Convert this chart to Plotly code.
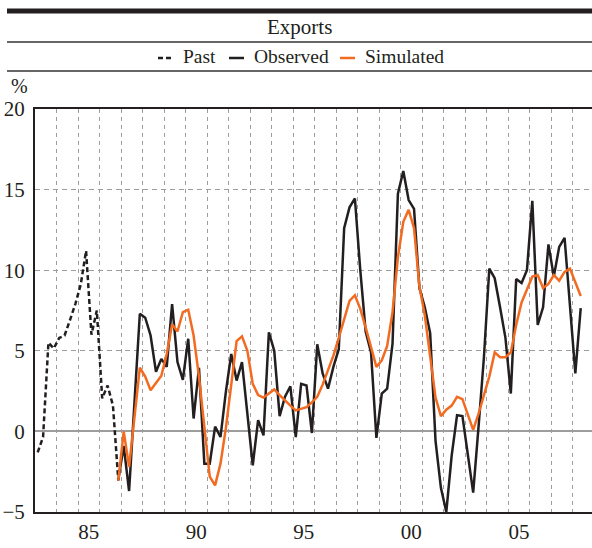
import pandas as pd
import plotly.graph_objects as go

# Quarterly export growth, %, 1983Q1 onward
past = [-1.3, -0.35, 5.5, 5.15, 5.8, 5.95, 6.9, 7.9, 9.1, 11.2, 6.0, 7.5, 2.05, 2.85, 1.6, -3.05]

observed = [
    -3.0, -0.9, -3.7, 1.8, 7.3, 7.05, 5.95, 3.7, 4.5, 4.0,
    7.9, 4.3, 3.2, 5.75, 0.8, 3.95, -2.0, -2.0, 0.3, -0.35,
    2.45, 4.8, 3.15, 4.3, 1.1, -2.1, 0.7, -0.25, 6.15, 5.0,
    0.95, 2.15, 2.8, -0.35, 2.95, 2.85, -0.1, 5.4, 3.6, 2.65,
    4.0, 5.1, 12.6, 13.9, 14.45, 10.0, 6.2, 4.9, -0.4, 2.35,
    2.65, 5.45, 14.75, 16.15, 14.35, 13.8, 8.9, 7.7, 6.1, -0.6,
    -3.5, -5.0, -1.5, 1.0, 0.95, -1.4, -3.8, 0.3, 4.6, 10.1,
    9.5, 7.7, 5.8, 2.35, 9.45, 9.2, 10.0, 14.3, 6.6, 7.7,
    11.6, 9.6, 11.45, 12.0, 8.0, 3.6, 7.65,
]

simulated = [
    -3.05, 0.0, -2.2, 0.9, 3.95, 3.4, 2.55, 3.0, 3.45, 4.8,
    6.65, 6.2, 7.4, 7.55, 5.95, 3.4, 0.5, -2.8, -3.35, -2.0,
    0.2, 3.0, 5.6, 5.9, 5.0, 2.95, 2.25, 2.1, 2.35, 2.6,
    2.25, 1.9, 1.6, 1.3, 1.4, 1.5, 1.8, 2.15, 2.9, 3.75,
    4.7, 5.8, 7.0, 8.1, 8.45, 7.6, 6.45, 5.2, 4.0, 4.4,
    5.3, 7.4, 10.8, 13.0, 13.75, 12.6, 9.0, 7.2, 4.6, 2.1,
    0.95, 1.35, 1.6, 2.15, 2.0, 1.1, 0.1, 1.1, 2.3, 3.4,
    4.9, 4.6, 4.6, 4.9, 6.6, 8.0, 8.8, 9.6, 9.7, 8.9,
    9.15, 9.7, 9.35, 9.9, 10.1, 9.25, 8.4,
]

tick_years = [1985, 1990, 1995, 2000, 2005]
tick_labels = ["85", "90", "95", "00", "05"]
y_ticks = [-5, 0, 5, 10, 15, 20]
y_labels = ["\u22125", "0", "5", "10", "15", "20"]

# quarter midpoints as decimal years
quarters = pd.period_range("1983Q1", periods=len(past) - 1 + len(observed), freq="Q")
qx = [p.year + (p.quarter - 1) / 4 + 0.125 for p in quarters]
x_past = qx[: len(past)]
x_obs = qx[len(past) - 1:]

BLACK = "#231f20"
ORANGE = "#f26b21"
GRID = "#9d9d9d"
FONT = "Liberation Serif"

fig = go.Figure()
fig.add_trace(go.Scatter(x=x_past, y=past, mode="lines",
                         line=dict(color=BLACK, width=2.5, dash="5px,3px"), name="Past"))
fig.add_trace(go.Scatter(x=x_obs, y=observed, mode="lines",
                         line=dict(color=BLACK, width=2.5), name="Observed"))
fig.add_trace(go.Scatter(x=x_obs, y=simulated, mode="lines",
                         line=dict(color=ORANGE, width=2.5), name="Simulated"))

W, H = 592, 548
L, R, T, B = 35, 592, 109, 512


def px(x):
    return (x - L) / (R - L)


def py(y):
    return (B - y) / (B - T)


shapes = [
    dict(type="line", xref="paper", yref="paper", x0=px(7), x1=px(592), y0=py(11), y1=py(11),
         line=dict(color=BLACK, width=5)),
    dict(type="line", xref="paper", yref="paper", x0=px(7), x1=px(592), y0=py(42), y1=py(42),
         line=dict(color="#333333", width=1.5)),
    dict(type="line", xref="paper", yref="paper", x0=px(7), x1=px(592), y0=py(71), y1=py(71),
         line=dict(color="#333333", width=1.5)),
]

annotations = [
    dict(text="Exports", x=px(299), y=py(27), xref="paper", yref="paper",
         showarrow=False, xanchor="center", yanchor="middle",
         font=dict(family=FONT, size=21, color=BLACK)),
    dict(text="%", x=px(9), y=py(86), xref="paper", yref="paper",
         showarrow=False, xanchor="left", yanchor="middle",
         font=dict(family=FONT, size=20, color=BLACK)),
]

# legend row drawn by hand: short line sample followed by its label
legend_items = [
    ("Past", BLACK, "5px,3px", 158, 181),
    ("Observed", BLACK, "solid", 229, 252),
    ("Simulated", ORANGE, "solid", 340, 363),
]
for label, color, dash, lx, tx in legend_items:
    shapes.append(dict(type="line", xref="paper", yref="paper",
                       x0=px(lx), x1=px(lx + 15), y0=py(58), y1=py(58),
                       line=dict(color=color, width=2.5, dash=dash)))
    annotations.append(dict(text=label, x=px(tx), y=py(57), xref="paper", yref="paper",
                            showarrow=False, xanchor="left", yanchor="middle",
                            font=dict(family=FONT, size=19.5, color=BLACK)))

fig.update_layout(
    width=W, height=H,
    margin=dict(l=L, r=W - R, t=T, b=H - B, pad=0),
    paper_bgcolor="white", plot_bgcolor="white",
    showlegend=False,
    shapes=shapes, annotations=annotations,
    font=dict(family=FONT, size=21, color=BLACK),
    xaxis=dict(
        range=[1983, 2008.9], showgrid=False, zeroline=False,
        tickvals=[y + 0.5 for y in tick_years], ticktext=tick_labels, ticks="",
        showline=True, linecolor=BLACK, linewidth=2, mirror=True,
        minor=dict(tick0=1983, dtick=1, showgrid=True, gridcolor=GRID,
                   gridwidth=1, griddash="4px,4px", ticks=""),
        tickfont=dict(family=FONT, size=21, color=BLACK),
    ),
    yaxis=dict(
        range=[-5, 20], tickvals=y_ticks, ticktext=y_labels, ticks="",
        showgrid=True, gridcolor=GRID, gridwidth=1, griddash="5px,4px",
        zeroline=True, zerolinecolor=GRID, zerolinewidth=1.5,
        showline=True, linecolor=BLACK, linewidth=2,
        ticklabelstandoff=4,
        tickfont=dict(family=FONT, size=21, color=BLACK),
    ),
    hovermode=False,
)

fig.write_html("out.html", config={"displayModeBar": False})
